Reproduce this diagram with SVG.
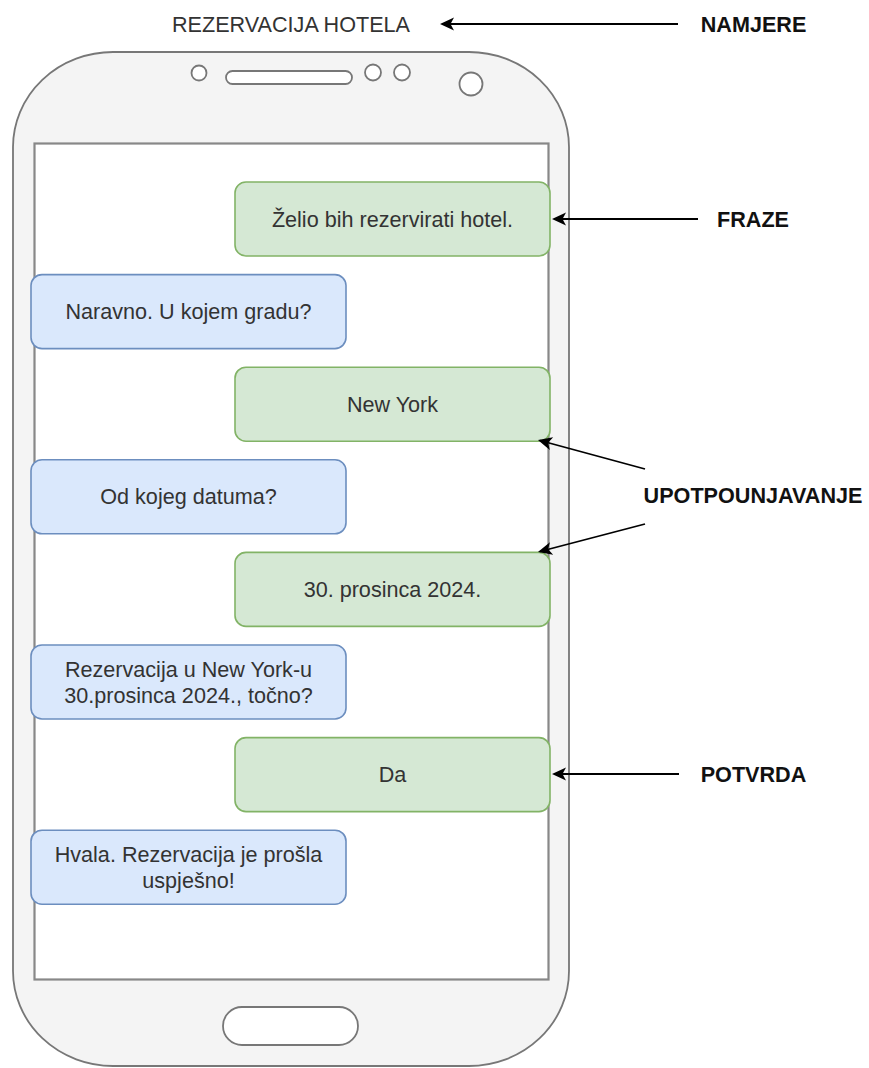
<svg xmlns="http://www.w3.org/2000/svg" width="869" height="1068" viewBox="0 0 869 1068">
<defs>
<marker id="arr" markerUnits="userSpaceOnUse" viewBox="-16 -8 18 16" markerWidth="18" markerHeight="16" refX="-2" refY="0" orient="auto">
<path d="M0,0 L-14,-6.5 L-10.5,0 L-14,6.5 Z" fill="#000"/>
</marker>
</defs>
<style>
text{font-family:"Liberation Sans",Arial,Helvetica,sans-serif;font-size:21.6px;text-anchor:middle}
.msg{fill:#333}
.lbl{font-weight:bold;fill:#111}
.g{fill:#d5e8d4;stroke:#82b366;stroke-width:1.6}
.b{fill:#dae8fc;stroke:#6c8ebf;stroke-width:1.6}
.hole{fill:#fff;stroke:#777;stroke-width:1.8}
.con{stroke:#000;stroke-width:1.8;fill:none;marker-end:url(#arr)}
</style>
<g id="phone">
<rect x="13" y="52" width="556" height="1014" rx="100" ry="95" fill="#f4f4f4" stroke="#777" stroke-width="1.8"/>
<rect x="34.5" y="143.5" width="514" height="836" fill="#fff" stroke="#888" stroke-width="2.2"/>
<circle class="hole" cx="199" cy="73" r="7.5"/>
<rect class="hole" x="226" y="71" width="126" height="13" rx="6.5"/>
<circle class="hole" cx="373" cy="72.5" r="8"/>
<circle class="hole" cx="402" cy="72.5" r="8"/>
<circle class="hole" cx="471" cy="84" r="11.5"/>
<rect class="hole" x="223" y="1007" width="135" height="38" rx="19"/>
</g>
<g id="title"><text class="msg" x="291" y="32">REZERVACIJA HOTELA</text></g>
<g id="m1"><rect class="g" x="235" y="182" width="315" height="74" rx="11"/><text class="msg" x="392.5" y="226.5">Želio bih rezervirati hotel.</text></g>
<g id="m2"><rect class="b" x="31" y="274.6" width="315" height="74" rx="11"/><text class="msg" x="188.5" y="319">Naravno. U kojem gradu?</text></g>
<g id="m3"><rect class="g" x="235" y="367.2" width="315" height="74" rx="11"/><text class="msg" x="392.5" y="411.7">New York</text></g>
<g id="m4"><rect class="b" x="31" y="459.8" width="315" height="74" rx="11"/><text class="msg" x="188.5" y="504.3">Od kojeg datuma?</text></g>
<g id="m5"><rect class="g" x="235" y="552.4" width="315" height="74" rx="11"/><text class="msg" x="392.5" y="596.9">30. prosinca 2024.</text></g>
<g id="m6"><rect class="b" x="31" y="645" width="315" height="74" rx="11"/><text class="msg" x="188.5" y="677">Rezervacija u New York-u</text><text class="msg" x="188.5" y="703">30.prosinca 2024., točno?</text></g>
<g id="m7"><rect class="g" x="235" y="737.6" width="315" height="74" rx="11"/><text class="msg" x="392.5" y="782">Da</text></g>
<g id="m8"><rect class="b" x="31" y="830.2" width="315" height="74" rx="11"/><text class="msg" x="188.5" y="862">Hvala. Rezervacija je prošla</text><text class="msg" x="188.5" y="888">uspješno!</text></g>
<g id="l-namjere"><text class="lbl" x="753.5" y="32">NAMJERE</text></g>
<g id="l-fraze"><text class="lbl" x="753" y="226.5">FRAZE</text></g>
<g id="l-upot"><text class="lbl" x="753" y="503">UPOTPOUNJAVANJE</text></g>
<g id="l-potvrda"><text class="lbl" x="753.5" y="781.5">POTVRDA</text></g>
<g id="connectors">
<line class="con" x1="678" y1="24" x2="442" y2="24"/>
<line class="con" x1="698" y1="219" x2="554" y2="219"/>
<line class="con" x1="645" y1="469" x2="539.9" y2="440.5"/>
<line class="con" x1="645" y1="524" x2="539.9" y2="551.5"/>
<line class="con" x1="679" y1="774" x2="554" y2="774"/>
</g>
</svg>
